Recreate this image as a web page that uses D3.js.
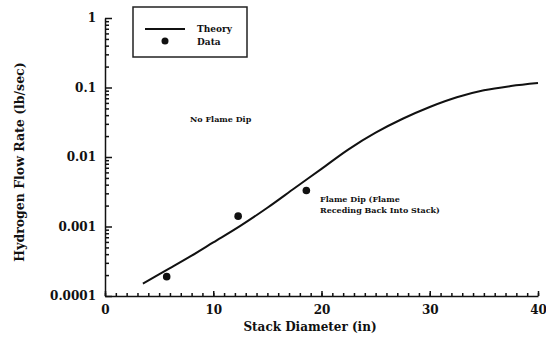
<!DOCTYPE html>
<html>
<head>
<meta charset="utf-8">
<script src="https://cdn.jsdelivr.net/npm/d3@7"></script>
<style>
  body { margin: 0; background: #fff; }
  text { font-family: "DejaVu Serif", serif; font-weight: bold; fill: #111; }
</style>
</head>
<body>
<div id="chart"></div>
<script>
// theory curve (stack diameter in, flow rate lb/sec)
let theoryX = [3.5, 6, 8, 10, 12.5, 15, 17.5, 20, 22.5, 25, 27.5, 30, 32.5, 35, 37.5, 40];
let theoryY = [0.000151, 0.000251, 0.00038, 0.000589, 0.00102, 0.00186, 0.00355, 0.00676, 0.0129, 0.0224, 0.0355, 0.0525, 0.0724, 0.0912, 0.105, 0.116];
// measured points
let dataX = [5.7, 12.3, 18.6];
let dataY = [0.00019, 0.00141, 0.0033];
let yTicks = [0.0001, 0.001, 0.01, 0.1, 1];
let yTickLabels = ["0.0001", "0.001", "0.01", "0.1", "1"];
let xTicks = [0, 10, 20, 30, 40];

let svgWidth = 546;
let svgHeight = 340;
let margin = { top: 18, right: 8, bottom: 44, left: 105 };
let chartWidth = 538 - margin.left;
let chartHeight = 296 - margin.top;

let svg = d3.select("#chart")
  .append("svg")
  .attr("width", svgWidth)
  .attr("height", svgHeight);

let chartGroup = svg.append("g")
  .attr("transform", `translate(${margin.left}, ${margin.top})`);

let xScale = d3.scaleLinear().domain([0, 40]).range([0, chartWidth]);
let yScale = d3.scaleLog().domain([0.0001, 1]).range([chartHeight, 0]);

// minor ticks
let xMinor = d3.range(0, 41, 1);
let yMinor = [];
for (let e = -4; e < 0; e++) {
  for (let m = 2; m <= 9; m++) yMinor.push(m * Math.pow(10, e));
}

chartGroup.append("g")
  .attr("transform", `translate(0, ${chartHeight})`)
  .call(d3.axisBottom(xScale).tickValues(xMinor).tickSize(-3).tickFormat(""))
  .call(g => g.select(".domain").remove());

chartGroup.append("g")
  .attr("transform", `translate(0, ${chartHeight})`)
  .call(d3.axisBottom(xScale).tickValues(xTicks).tickSizeInner(-5).tickSizeOuter(0).tickPadding(9))
  .call(g => g.selectAll("text").style("font-size", "12px"));

chartGroup.append("g")
  .call(d3.axisLeft(yScale).tickValues(yMinor).tickSize(-4).tickFormat(""))
  .call(g => g.select(".domain").remove());

chartGroup.append("g")
  .call(d3.axisLeft(yScale).tickValues(yTicks).tickSizeInner(-7).tickSizeOuter(0).tickPadding(9)
    .tickFormat((d, i) => yTickLabels[i]))
  .call(g => g.selectAll("text").style("font-size", "12px"));

svg.selectAll(".domain, .tick line").attr("stroke", "#111").attr("stroke-width", 1.5);

// theory line
let line = d3.line()
  .x((d, i) => xScale(theoryX[i]))
  .y(d => yScale(d))
  .curve(d3.curveCatmullRom);

chartGroup.append("path")
  .datum(theoryY)
  .attr("fill", "none")
  .attr("stroke", "#111")
  .attr("stroke-width", 2)
  .attr("d", line);

chartGroup.selectAll(".dot")
  .data(dataY)
  .enter()
  .append("circle")
  .attr("class", "dot")
  .attr("cx", (d, i) => xScale(dataX[i]))
  .attr("cy", d => yScale(d))
  .attr("r", 3.8)
  .attr("fill", "#111");

// legend
let legend = svg.append("g");
legend.append("rect")
  .attr("x", 133).attr("y", 7).attr("width", 114).attr("height", 50)
  .attr("fill", "none").attr("stroke", "#222").attr("stroke-width", 1.5);
legend.append("line")
  .attr("x1", 145).attr("x2", 185).attr("y1", 29).attr("y2", 29)
  .attr("stroke", "#111").attr("stroke-width", 2);
legend.append("circle").attr("cx", 165).attr("cy", 41).attr("r", 3.5).attr("fill", "#111");
legend.append("text").attr("x", 197).attr("y", 32).style("font-size", "9px").text("Theory");
legend.append("text").attr("x", 197).attr("y", 45).style("font-size", "9px").text("Data");

// annotations
svg.append("text").attr("x", 190).attr("y", 122).style("font-size", "8px").text("No Flame Dip");
svg.append("text").attr("x", 320).attr("y", 202).style("font-size", "8px").text("Flame Dip (Flame");
svg.append("text").attr("x", 320).attr("y", 213).style("font-size", "8px").text("Receding Back Into Stack)");

// axis titles
svg.append("text")
  .attr("x", 310).attr("y", 331)
  .attr("text-anchor", "middle")
  .style("font-size", "12px")
  .text("Stack Diameter (in)");

svg.append("text")
  .attr("transform", "translate(24, 162) rotate(-90)")
  .attr("text-anchor", "middle")
  .style("font-size", "12.5px")
  .text("Hydrogen Flow Rate (lb/sec)");
</script>
</body>
</html>
